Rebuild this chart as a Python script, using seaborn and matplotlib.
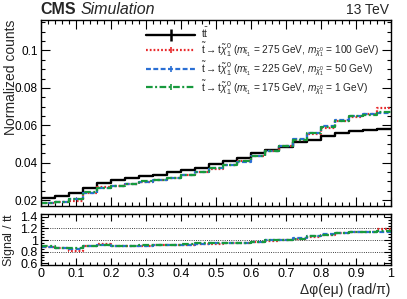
import numpy as np
import pandas as pd
import matplotlib
matplotlib.use("Agg")
import matplotlib.pyplot as plt
from matplotlib.lines import Line2D
from matplotlib.ticker import MultipleLocator, FuncFormatter
import seaborn as sns

sns.set_theme(style="ticks")
plt.rcParams["font.family"] = ["Liberation Sans", "DejaVu Sans"]
plt.rcParams["mathtext.fontset"] = "custom"
plt.rcParams["mathtext.rm"] = "Liberation Sans"
plt.rcParams["mathtext.it"] = "Liberation Sans:italic"
plt.rcParams["mathtext.bf"] = "Liberation Sans:bold"

# ---- data (25 bins of width 0.04 in dphi/pi) ----
bin_edges = np.linspace(0.0, 1.0, 26)
ttbar = [0.0209, 0.0221, 0.0239, 0.0266, 0.0290, 0.0306, 0.0318, 0.0330, 0.0336, 0.0348,
         0.0361, 0.0373, 0.0391, 0.0409, 0.0426, 0.0450, 0.0466, 0.0486, 0.0509, 0.0523,
         0.0543, 0.0556, 0.0568, 0.0575, 0.0582]
sig_275_100 = [0.0183, 0.0189, 0.0196, 0.0240, 0.0270, 0.0276, 0.0286, 0.0298, 0.0308, 0.0316,
               0.0332, 0.0350, 0.0366, 0.0388, 0.0408, 0.0434, 0.0460, 0.0488, 0.0520, 0.0555,
               0.0588, 0.0622, 0.0645, 0.0660, 0.0692]
sig_225_50 = [0.0184, 0.0190, 0.0203, 0.0238, 0.0266, 0.0274, 0.0287, 0.0299, 0.0309, 0.0317,
              0.0333, 0.0350, 0.0370, 0.0390, 0.0405, 0.0436, 0.0463, 0.0490, 0.0524, 0.0560,
              0.0596, 0.0626, 0.0648, 0.0660, 0.0668]
sig_175_1 = [0.0186, 0.0191, 0.0207, 0.0241, 0.0266, 0.0275, 0.0287, 0.0300, 0.0308, 0.0316,
             0.0334, 0.0352, 0.0370, 0.0390, 0.0407, 0.0437, 0.0464, 0.0490, 0.0522, 0.0557,
             0.0590, 0.0625, 0.0647, 0.0656, 0.0670]

labels = [
    r"$\mathrm{t\bar{t}}$",
    r"$\tilde{\mathrm{t}}\rightarrow\mathrm{t}\tilde{\chi}_{1}^{0}$ ($m_{\tilde{\mathrm{t}}_{1}}$ = 275 GeV, $m_{\tilde{\chi}_{1}^{0}}$ = 100 GeV)",
    r"$\tilde{\mathrm{t}}\rightarrow\mathrm{t}\tilde{\chi}_{1}^{0}$ ($m_{\tilde{\mathrm{t}}_{1}}$ = 225 GeV, $m_{\tilde{\chi}_{1}^{0}}$ = 50 GeV)",
    r"$\tilde{\mathrm{t}}\rightarrow\mathrm{t}\tilde{\chi}_{1}^{0}$ ($m_{\tilde{\mathrm{t}}_{1}}$ = 175 GeV, $m_{\tilde{\chi}_{1}^{0}}$ = 1 GeV)",
]
colors = ["black", "#e8292b", "#2a6fd4", "#17993d"]
styles = ["-", (0, (0.8, 0.9)), (0, (2.2, 1.1)), (0, (3.0, 1.1, 0.9, 1.1))]
widths = [1.7, 1.6, 1.6, 1.6]
series = [ttbar, sig_275_100, sig_225_50, sig_175_1]


def steps(vals):
    v = list(vals)
    return pd.DataFrame({"x": bin_edges, "y": v + [v[-1]]})


fig = plt.figure(figsize=(4.07, 2.99), dpi=100)
ax = fig.add_axes([0.1, 0.311, 0.86, 0.622])
rax = fig.add_axes([0.1, 0.1137, 0.86, 0.1706])

# top panel
for vals, c, ls, lw in zip(series, colors, styles, widths):
    sns.lineplot(data=steps(vals), x="x", y="y", ax=ax, color=c, linestyle=ls,
                 linewidth=lw, drawstyle="steps-post", errorbar=None, legend=False)

# ratio panel
tt = np.array(ttbar)
for vals, c, ls, lw in zip(series[1:], colors[1:], styles[1:], widths[1:]):
    r = np.array(vals) / tt
    sns.lineplot(data=steps(r), x="x", y="y", ax=rax, color=c, linestyle=ls,
                 linewidth=lw, drawstyle="steps-post", errorbar=None, legend=False)
for yv in (0.8, 1.0, 1.2):
    rax.axhline(yv, color="black", linestyle=":", linewidth=0.6, zorder=0)

fmt = FuncFormatter(lambda v, p: "%g" % round(v, 6))
for a in (ax, rax):
    a.set_xlim(0, 1)
    a.xaxis.set_major_locator(MultipleLocator(0.1))
    a.xaxis.set_minor_locator(MultipleLocator(0.02))
    a.tick_params(which="both", direction="in", top=True, right=True, colors="black")
    for s in a.spines.values():
        s.set_linewidth(1.0)
        s.set_color("black")
    a.set_xlabel("")
    a.set_ylabel("")

ax.set_ylim(0.0168, 0.1163)
ax.yaxis.set_major_locator(MultipleLocator(0.02))
ax.yaxis.set_minor_locator(MultipleLocator(0.005))
ax.yaxis.set_major_formatter(fmt)
ax.tick_params(axis="x", labelbottom=False)
ax.tick_params(which="major", length=6.5, width=0.8, labelsize=8.5)
ax.tick_params(which="minor", length=3.2, width=0.8)
ax.tick_params(axis="y", pad=2)

rax.set_ylim(0.57, 1.45)
rax.yaxis.set_major_locator(MultipleLocator(0.2))
rax.yaxis.set_minor_locator(MultipleLocator(0.05))
rax.yaxis.set_major_formatter(fmt)
rax.xaxis.set_major_formatter(fmt)
rax.tick_params(which="major", length=5, width=0.8, labelsize=9)
rax.tick_params(which="minor", length=2.5, width=0.8)
rax.tick_params(axis="x", pad=2)
rax.tick_params(axis="y", pad=2)

ax.set_ylabel("Normalized counts", fontsize=10, loc="top")
ax.yaxis.set_label_coords(-0.066, 1.0)
rax.set_ylabel(r"Signal / $\mathrm{t\bar{t}}$", fontsize=9)
rax.yaxis.set_label_coords(-0.066, 0.5)
rax.set_xlabel("Δφ(eμ) (rad/π)", fontsize=10, loc="right", labelpad=2)

# legend
handles = []
for c, ls, lw in zip(colors, styles, widths):
    handles.append(Line2D([0], [0], color=c, linestyle=ls, linewidth=lw,
                          marker="|", markersize=(8 if c == "black" else 5),
                          markeredgewidth=(1.8 if c == "black" else 1.2)))
ax.legend(handles, labels, loc="upper right", bbox_to_anchor=(0.985, 1.0),
          frameon=False, fontsize=7.3, handlelength=4.8, handletextpad=0.6,
          labelspacing=0.0, borderaxespad=0.2)

fig.text(0.1, 0.952, "CMS", fontsize=11.5, fontweight="bold", ha="left", va="baseline")
fig.text(0.199, 0.952, "Simulation", fontsize=11.5, fontstyle="italic", ha="left", va="baseline")
fig.text(0.955, 0.952, "13 TeV", fontsize=10, ha="right", va="baseline")

fig.savefig("out.png", dpi=100)
